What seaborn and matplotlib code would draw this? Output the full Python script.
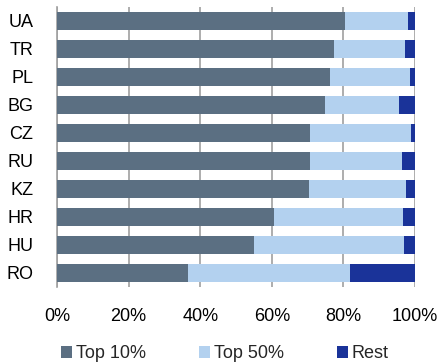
import matplotlib
matplotlib.use("Agg")
import matplotlib.pyplot as plt
import seaborn as sns
import pandas as pd
import numpy as np
from matplotlib.patches import Patch

countries = ["UA", "TR", "PL", "BG", "CZ", "RU", "KZ", "HR", "HU", "RO"]
top10 = [80.5, 77.5, 76.3, 74.9, 70.7, 70.7, 70.5, 60.7, 55.1, 36.7]
top50 = [17.5, 19.8, 22.4, 20.7, 28.2, 25.8, 27.0, 36.0, 41.8, 45.2]
rest = [2.0, 2.7, 1.3, 4.4, 1.1, 3.5, 2.5, 3.3, 3.1, 18.1]

series_names = ["Top 10%", "Top 50%", "Rest"]
colors = ["#5b6f82", "#b3d1ef", "#1a3399"]

sns.set_theme(style="white")
plt.rcParams["font.family"] = ["Liberation Sans", "DejaVu Sans"]

df = pd.DataFrame({"country": countries, "Top 10%": top10, "Top 50%": top50, "Rest": rest})
df["c1"] = df["Top 10%"]
df["c2"] = df["c1"] + df["Top 50%"]
df["c3"] = df["c2"] + df["Rest"]

fig = plt.figure(figsize=(4.39, 3.63), dpi=100)
ax = fig.add_axes([57 / 439, 1 - 286.7 / 363, (415 - 57) / 439, 280 / 363])

for col, color in zip(["c3", "c2", "c1"], colors[::-1]):
    sns.barplot(data=df, x=col, y="country", order=countries, color=color,
                orient="h", width=0.63, ax=ax, saturation=1, linewidth=0, zorder=3)

FS = 13
ax.set_xlim(0, 100)
ax.set_ylim(len(countries) - 0.5, -0.5)
ax.set_xticks(np.arange(0, 101, 20))
ax.set_xticklabels([f"{v}%" for v in range(0, 101, 20)], fontsize=FS, color="#000000")
ax.tick_params(axis="y", labelsize=FS, length=0, pad=17, labelcolor="#000000")
ax.tick_params(axis="x", length=0, pad=15)
ax.set_xlabel("")
ax.set_ylabel("")
ax.xaxis.grid(True, color="#a0a0a0", linewidth=1.2, zorder=0)
ax.set_axisbelow(True)
for s in ["top", "right", "bottom"]:
    ax.spines[s].set_visible(False)
ax.spines["left"].set_color("#a0a0a0")
ax.spines["left"].set_linewidth(1.2)

handles = [Patch(facecolor=c, edgecolor="none", label=n) for n, c in zip(series_names, colors)]
fig.legend(handles=handles, loc="center left", bbox_to_anchor=(56 / 439, 1 - 354 / 363), ncol=3,
           frameon=False, fontsize=FS, handlelength=0.6, handleheight=0.6,
           handletextpad=0.2, columnspacing=2.95, borderaxespad=0, borderpad=0.3)

fig.savefig("out.png", dpi=100)
